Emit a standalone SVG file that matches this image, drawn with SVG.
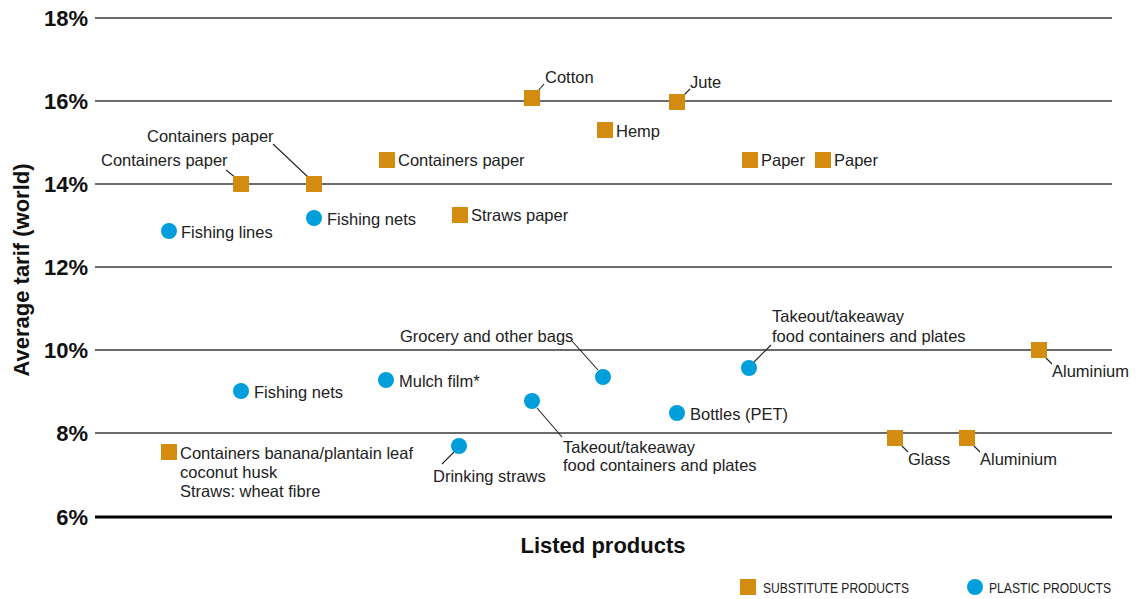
<svg xmlns="http://www.w3.org/2000/svg" width="1137" height="599" viewBox="0 0 1137 599">
<style>
.grid{stroke:#3a3a3a;stroke-width:1.3;fill:none}
.base{stroke:#000;stroke-width:3;fill:none}
.tick{font-family:"Liberation Sans",Arial,sans-serif;font-weight:bold;font-size:22px;fill:#111;text-anchor:end}
.title{font-family:"Liberation Sans",Arial,sans-serif;font-weight:bold;font-size:22px;fill:#111}
.lbl{font-family:"Liberation Sans",Arial,sans-serif;font-size:16.5px;fill:#222}
.leg{font-family:"Liberation Sans",Arial,sans-serif;font-size:14.5px;fill:#222}
.sq{fill:#D38B10}
.ci{fill:#009FDB}
.lead{stroke:#222;stroke-width:1.1;fill:none}
</style>
<rect width="1137" height="599" fill="#fff"/>
<g id="axes">
<line class="grid" x1="95" y1="18" x2="1112" y2="18"/>
<line class="grid" x1="95" y1="101" x2="1112" y2="101"/>
<line class="grid" x1="95" y1="184" x2="1112" y2="184"/>
<line class="grid" x1="95" y1="267" x2="1112" y2="267"/>
<line class="grid" x1="95" y1="350" x2="1112" y2="350"/>
<line class="grid" x1="95" y1="433" x2="1112" y2="433"/>
<line class="base" x1="95" y1="517" x2="1112" y2="517"/>
<text class="tick" x="88" y="26">18%</text>
<text class="tick" x="88" y="109">16%</text>
<text class="tick" x="88" y="192">14%</text>
<text class="tick" x="88" y="275">12%</text>
<text class="tick" x="88" y="358">10%</text>
<text class="tick" x="88" y="441">8%</text>
<text class="tick" x="88" y="525">6%</text>
<text class="title" transform="translate(29,270) rotate(-90)" text-anchor="middle">Average tarif (world)</text>
<text class="title" x="603" y="553" text-anchor="middle">Listed products</text>
</g>
<g id="connectors">
<polyline class="lead" points="226,170 236,178"/>
<polyline class="lead" points="273,144 309,178"/>
<polyline class="lead" points="538,91 544,84"/>
<polyline class="lead" points="683,96 690,89"/>
<polyline class="lead" points="572,341 598,370"/>
<polyline class="lead" points="537,408 562,437"/>
<polyline class="lead" points="454,452 442,464"/>
<polyline class="lead" points="754,362 771,345"/>
<polyline class="lead" points="1046,358 1052,364"/>
<polyline class="lead" points="902,446 908,452"/>
<polyline class="lead" points="974,446 980,452"/>
</g>
<g id="n-containers-paper-1"><rect class="sq" x="233" y="176" width="16" height="16"/><text class="lbl" x="101" y="166">Containers paper</text></g>
<g id="n-containers-paper-2"><rect class="sq" x="306" y="176" width="16" height="16"/><text class="lbl" x="147" y="142">Containers paper</text></g>
<g id="n-containers-paper-3"><rect class="sq" x="379" y="152" width="16" height="16"/><text class="lbl" x="398" y="166">Containers paper</text></g>
<g id="n-cotton"><rect class="sq" x="524" y="90" width="16" height="16"/><text class="lbl" x="545" y="83">Cotton</text></g>
<g id="n-jute"><rect class="sq" x="669" y="94" width="16" height="16"/><text class="lbl" x="690" y="88">Jute</text></g>
<g id="n-hemp"><rect class="sq" x="597" y="122" width="16" height="16"/><text class="lbl" x="616" y="137">Hemp</text></g>
<g id="n-paper-1"><rect class="sq" x="742" y="152" width="16" height="16"/><text class="lbl" x="761" y="166">Paper</text></g>
<g id="n-paper-2"><rect class="sq" x="815" y="152" width="16" height="16"/><text class="lbl" x="834" y="166">Paper</text></g>
<g id="n-straws-paper"><rect class="sq" x="452" y="207" width="16" height="16"/><text class="lbl" x="471" y="221">Straws paper</text></g>
<g id="n-fishing-lines"><circle class="ci" cx="169" cy="231" r="8"/><text class="lbl" x="181" y="238">Fishing lines</text></g>
<g id="n-fishing-nets-1"><circle class="ci" cx="314" cy="218" r="8"/><text class="lbl" x="327" y="225">Fishing nets</text></g>
<g id="n-fishing-nets-2"><circle class="ci" cx="241" cy="391" r="8"/><text class="lbl" x="254" y="398">Fishing nets</text></g>
<g id="n-mulch-film"><circle class="ci" cx="386" cy="380" r="8"/><text class="lbl" x="399" y="387">Mulch film*</text></g>
<g id="n-grocery-bags"><circle class="ci" cx="603" cy="377" r="8"/><text class="lbl" x="400" y="342">Grocery and other bags</text></g>
<g id="n-takeout-1"><circle class="ci" cx="532" cy="401" r="8"/><text class="lbl" x="563" y="453">Takeout/takeaway</text><text class="lbl" x="563" y="471">food containers and plates</text></g>
<g id="n-drinking-straws"><circle class="ci" cx="459" cy="446" r="8"/><text class="lbl" x="433" y="482">Drinking straws</text></g>
<g id="n-bottles"><circle class="ci" cx="677" cy="413" r="8"/><text class="lbl" x="690" y="420">Bottles (PET)</text></g>
<g id="n-takeout-2"><circle class="ci" cx="749" cy="368" r="8"/><text class="lbl" x="772" y="322">Takeout/takeaway</text><text class="lbl" x="772" y="342">food containers and plates</text></g>
<g id="n-aluminium-1"><rect class="sq" x="1031" y="342" width="16" height="16"/><text class="lbl" x="1052" y="377">Aluminium</text></g>
<g id="n-glass"><rect class="sq" x="887" y="430" width="16" height="16"/><text class="lbl" x="908" y="465">Glass</text></g>
<g id="n-aluminium-2"><rect class="sq" x="959" y="430" width="16" height="16"/><text class="lbl" x="980" y="465">Aluminium</text></g>
<g id="n-containers-banana"><rect class="sq" x="161" y="444" width="16" height="16"/><text class="lbl" x="180" y="459">Containers banana/plantain leaf</text><text class="lbl" x="180" y="478">coconut husk</text><text class="lbl" x="180" y="497">Straws: wheat fibre</text></g>
<g id="legend">
<rect class="sq" x="740" y="579" width="16" height="16"/>
<text class="leg" x="763" y="593" textLength="146" lengthAdjust="spacingAndGlyphs">SUBSTITUTE PRODUCTS</text>
<circle class="ci" cx="975" cy="587" r="8"/>
<text class="leg" x="989" y="593" textLength="122" lengthAdjust="spacingAndGlyphs">PLASTIC PRODUCTS</text>
</g>
</svg>
